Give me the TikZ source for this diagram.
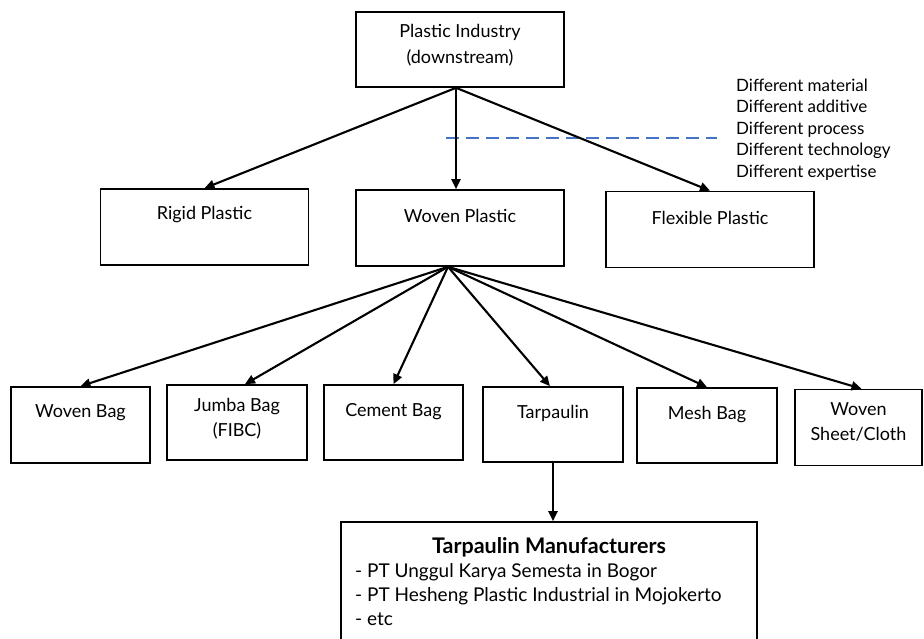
\documentclass[tikz,border=0pt]{standalone}
\usepackage{fontspec}
\setmainfont{Lato}
\usetikzlibrary{arrows.meta}
\definecolor{dashblue}{RGB}{68,114,196}
\tikzset{
  box/.style={draw=black, line width=1.6pt, fill=white, inner sep=0pt},
  topbox/.style={box, minimum width=208pt, minimum height=75pt},
  midbox/.style={box, minimum width=208pt, minimum height=76pt},
  smallbox/.style={box, minimum width=140pt, minimum height=75pt},
  link/.style={line width=2.1pt, -{Triangle[length=10pt,width=9pt]}},
  label/.style={inner sep=0pt, align=center, font=\fontsize{18}{25.5}\selectfont}
}
\begin{document}
\begin{tikzpicture}[x=1pt,y=-1pt]
\useasboundingbox (0,0) rectangle (924,639);
\begin{scope}
\clip (0,0) rectangle (924,639);

% upper level
\node[topbox] (top) at (460,49.5) {};
\node[label] (toptxt) at (460,45) {Plastic Industry\\(downstream)};

\node[midbox] (rigid) at (204.5,227) {};
\node[label] (rigidtxt) at (204.5,215) {Rigid Plastic};
\node[midbox] (woven) at (460,228) {};
\node[label] (woventxt) at (460,216) {Woven Plastic};
\node[midbox] (flex) at (710,229.5) {};
\node[label] (flextxt) at (710,218) {Flexible Plastic};

% product level
\node[smallbox, minimum width=139pt, minimum height=76pt] (wbag) at (80.5,425) {};
\node[label] (wbagtxt) at (80.5,413) {Woven Bag};
\node[smallbox] (jumba) at (237,422.5) {};
\node[label] (jumbatxt) at (237,418.5) {Jumba Bag\\(FIBC)};
\node[smallbox, minimum width=139pt] (cement) at (393.5,422.5) {};
\node[label] (cementtxt) at (393.5,412) {Cement Bag};
\node[smallbox] (tarp) at (553,424.5) {};
\node[label] (tarptxt) at (553,413) {Tarpaulin};
\node[smallbox] (mesh) at (707,425.5) {};
\node[label] (meshtxt) at (707,415) {Mesh Bag};
\node[smallbox, minimum width=127pt, minimum height=76pt] (sheet) at (858.5,427.5) {};
\node[label] (sheettxt) at (858.5,422) {Woven\\Sheet/Cloth};

% manufacturers
\node[box, minimum width=416pt, minimum height=128pt] (mfr) at (549,586) {};
\node[label, font=\fontsize{21.5}{24}\selectfont\bfseries] (mfrtitle) at (549,547) {Tarpaulin Manufacturers};
\node[label, anchor=west, align=left, font=\fontsize{19}{24}\selectfont] (mfrlist) at (355,595)
  {- PT Unggul Karya Semesta in Bogor\\- PT Hesheng Plastic Industrial in Mojokerto\\- etc};

% dividing line and notes
\node[label, anchor=north west, align=left, font=\fontsize{17}{21.5}\selectfont] (diffs) at (736,78.5)
  {Different material\\Different additive\\Different process\\Different technology\\Different expertise};
\coordinate (dl) at (446,138);
\coordinate (dr) at (717,138);
\draw[dashblue, line width=1.2pt, dash pattern=on 13pt off 7pt] (dl) -- (dr);

% connectors
\coordinate (topout) at ([xshift=-4pt]top.south);
\draw[link] (topout) -- (rigid.north);
\draw[link] (topout) -- (topout |- woven.north);
\draw[link] (topout) -- (flex.north);

\coordinate (fan) at ([xshift=-12pt]woven.south);
\draw[link] (fan) -- (wbag.north);
\draw[link] (fan) -- ([xshift=8pt]jumba.north);
\draw[link] (fan) -- (cement.north);
\draw[link] (fan) -- ([xshift=-3pt]tarp.north);
\draw[link] (fan) -- (mesh.north);
\draw[link] (fan) -- ([xshift=3pt]sheet.north);

\draw[link] (tarp.south) -- (tarp.south |- mfr.north);
\end{scope}
\end{tikzpicture}
\end{document}
